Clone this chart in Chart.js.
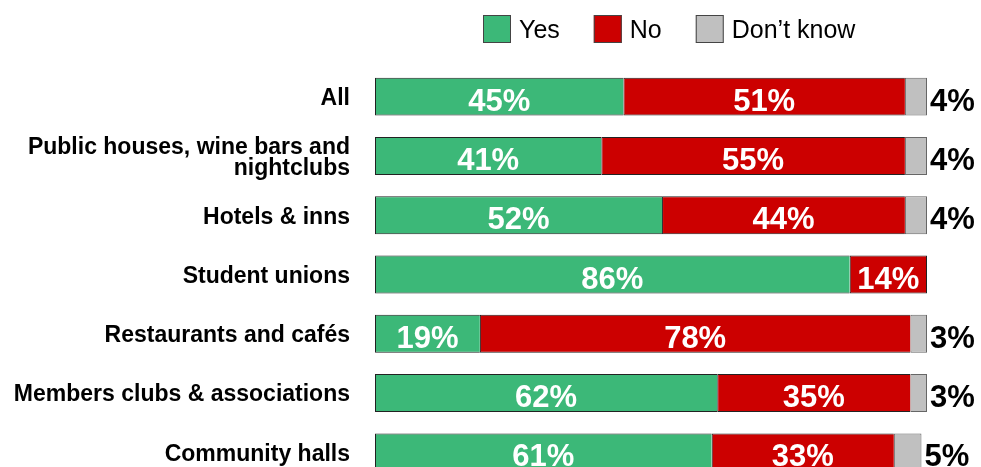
<!DOCTYPE html>
<html>
<head>
<meta charset="utf-8">
<script src="https://cdn.jsdelivr.net/npm/chart.js@4.4.1/dist/chart.umd.min.js"></script>
<style>
  html, body { margin: 0; padding: 0; overflow: hidden; background: #fff; }
  canvas { display: block; }
</style>
</head>
<body>
<canvas id="venueChart" width="981" height="482"></canvas>
<script>
// survey answers by venue type, in percent
const venues = [
  'All',
  ['Public houses, wine bars and', 'nightclubs'],
  'Hotels & inns',
  'Student unions',
  'Restaurants and cafés',
  'Members clubs & associations',
  'Community halls'
];
const yesPct = [45, 41, 52, 86, 19, 62, 61];
const noPct = [51, 55, 44, 14, 78, 35, 33];
const dontKnowPct = [4, 4, 4, 0, 3, 3, 5];
const seriesNames = ['Yes', 'No', 'Don\u2019t know'];
const seriesColours = ['#3cb878', '#cc0000', '#c0c0c0'];
const edgeColours = ['#222', '#222', '#666'];

const FONT = '"Liberation Sans", Arial, sans-serif';

// left/top/bottom edge on every segment, right edge only on the last filled one
function segBorder(ctx) {
  const ds = ctx.chart.data.datasets;
  let last = true;
  for (let k = ctx.datasetIndex + 1; k < ds.length; k++) {
    if (ds[k].data[ctx.dataIndex] > 0) last = false;
  }
  return { top: 1, bottom: 1, left: 1, right: last ? 1 : 0 };
}

// white value inside Yes/No segments, black value after the Don't know segment
const pctLabels = {
  id: 'pctLabels',
  afterDatasetsDraw(chart) {
    const ctx = chart.ctx;
    ctx.save();
    ctx.font = 'bold 31px ' + FONT;
    ctx.textBaseline = 'alphabetic';
    chart.data.datasets.forEach((ds, i) => {
      chart.getDatasetMeta(i).data.forEach((bar, j) => {
        const v = ds.data[j];
        if (!v) return;
        const y = bar.y + 14;
        if (i === 2) {
          ctx.fillStyle = '#000';
          ctx.textAlign = 'left';
          ctx.fillText(v + '%', bar.x + 3, y);
        } else {
          ctx.fillStyle = '#fff';
          ctx.textAlign = 'center';
          ctx.fillText(v + '%', (bar.base + bar.x) / 2, y);
        }
      });
    });
    ctx.restore();
  }
};

// row of square swatches above the bars
const boxLegend = {
  id: 'boxLegend',
  afterDraw(chart, args, opts) {
    const ctx = chart.ctx;
    ctx.save();
    ctx.font = '25px ' + FONT;
    ctx.textBaseline = 'alphabetic';
    ctx.textAlign = 'left';
    let x = opts.left;
    chart.data.datasets.forEach(ds => {
      ctx.fillStyle = ds.backgroundColor;
      ctx.fillRect(x, opts.top, 28, 28);
      ctx.strokeStyle = '#444';
      ctx.lineWidth = 1;
      ctx.strokeRect(x + 0.5, opts.top + 0.5, 27, 27);
      ctx.fillStyle = '#000';
      ctx.fillText(ds.label, x + 36, opts.top + 23);
      x += 36 + ctx.measureText(ds.label).width + 34;
    });
    ctx.restore();
  }
};

const series = [yesPct, noPct, dontKnowPct];

new Chart(document.getElementById('venueChart'), {
  type: 'bar',
  data: {
    labels: venues,
    datasets: series.map((vals, i) => ({
      label: seriesNames[i],
      data: vals,
      backgroundColor: seriesColours[i],
      borderColor: edgeColours[i],
      borderWidth: segBorder,
      borderSkipped: false,
      barPercentage: 0.64,
      categoryPercentage: 1
    }))
  },
  options: {
    indexAxis: 'y',
    responsive: false,
    animation: false,
    devicePixelRatio: 1,
    layout: { padding: { top: 67, right: 54, bottom: 0, left: 0 } },
    scales: {
      x: { stacked: true, min: 0, max: 100, display: false },
      y: {
        stacked: true,
        afterFit(scale) {
          // fixed label column; tick padding should not eat vertical space
          scale.width = 375;
          scale.paddingTop = 0;
          scale.paddingBottom = 0;
        },
        grid: { display: false, drawTicks: false },
        border: { display: false },
        ticks: {
          padding: 25,
          labelOffset: 2,
          color: '#000',
          font: { family: FONT, size: 23, weight: 'bold', lineHeight: 0.93 }
        }
      }
    },
    plugins: {
      legend: { display: false },
      tooltip: { enabled: false },
      boxLegend: { left: 483, top: 15 }
    }
  },
  plugins: [pctLabels, boxLegend]
});
</script>
</body>
</html>
